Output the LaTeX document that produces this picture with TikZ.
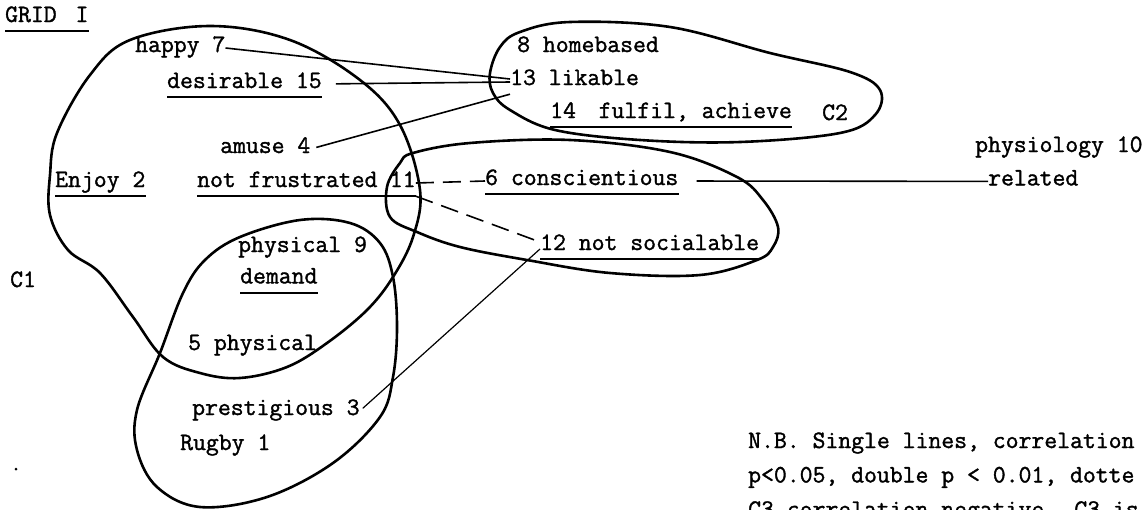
\documentclass[tikz,border=0pt]{standalone}
\usepackage{fontspec}
\newfontfamily\typefont[FakeBold=1.4]{Latin Modern Mono}
\usetikzlibrary{positioning}

\begin{document}
\begin{tikzpicture}[x=1pt, y=-1pt,
lab/.style={font=\fontsize{25}{30}\selectfont\typefont, inner sep=0pt, text height=17pt, text depth=9pt, anchor=base west},
cluster/.style={line width=2.6pt, line join=round},
link/.style={line width=1.6pt},
neglink/.style={line width=1.6pt, dash pattern=on 18pt off 9pt},
thinlink/.style={line width=1.2pt},
uline/.style={line width=2pt},
]
\useasboundingbox (0,0) rectangle (1145,509);

%Clusters
\draw[cluster] plot[smooth cycle, tension=0.6] coordinates {(57,133) (90,75) (130,40) (210,26) (290,40) (360,80) (400,125) (420,190) (413,237) (393,277) (367,310) (327,343) (287,367) (240,378) (200,373) (163,357) (133,317) (100,273) (68,250) (50,215) (50,175)};
\draw[cluster] plot[smooth cycle, tension=0.6] coordinates {(240,237) (300,220) (350,223) (380,243) (393,277) (397,327) (393,377) (380,417) (333,463) (267,497) (200,507) (157,487) (137,450) (137,410) (160,353) (183,293) (205,260)};
\draw[cluster] plot[smooth cycle, tension=0.6] coordinates {(490,73) (500,47) (520,32) (570,22) (670,27) (770,53) (850,72) (880,90) (875,115) (840,133) (740,142) (640,140) (555,130) (510,110) (493,93)};
\draw[cluster] plot[smooth cycle, tension=0.6] coordinates {(413,153) (470,143) (570,140) (670,152) (737,177) (763,200) (778,227) (773,247) (757,260) (700,275) (610,273) (527,260) (460,247) (417,232) (390,217) (387,187) (400,163)};

%Nodes
\node[lab] (grid) at (5,22) {GRID \kern6pt I};
\node[lab] (happy) at (135,52) {happy 7};
\node[lab] (desirable) at (167,88) {desirable 15};
\node[lab] (amuse) at (220,153) {amuse 4};
\node[lab] (enjoy) at (55,187) {Enjoy 2};
\node[lab] (frust) at (197,187) {not frustrated};
\node[lab, right=12pt of frust.base east, anchor=base west] (eleven) {11};
\node[lab] (physnine) at (238,252) {physical 9};
\node[lab, below=5pt of physnine.south west, anchor=north west, xshift=2pt] (demand) {demand};
\node[lab] (cone) at (10,287) {C1};
\node[lab] (physfive) at (188,350) {5 physical};
\node[lab] (prest) at (192,415) {prestigious 3};
\node[lab] (rugby) at (180,450) {Rugby 1};
\node[lab] (homebased) at (517,52) {8 homebased};
\node[lab] (likable) at (510,85) {13 likable};
\node[lab] (fulfil) at (550,118) {14 \kern-3pt\ fulfil, achieve};
\node[lab] (ctwo) at (822,120) {C2};
\node[lab] (consc) at (485,185) {6 conscientious};
\node[lab] (notsoc) at (540,250) {12 not socialable};
\node[lab] (physio) at (975,152) {physiology 10};
\node[lab, below=7pt of physio.south west, anchor=north west, xshift=13pt] (related) {related};
\node[lab] (noteA) at (748,448) {N.B. Single lines, correlation};
\node[lab, below=8pt of noteA.south west, anchor=north west] (noteB) {p<0.05, double p < 0.01, dotte};
\node[lab, below=8pt of noteB.south west, anchor=north west] (noteC) {C3 correlation negative.  C3 is};
\fill (16,469) circle (1.5pt);

%Underlines
\draw[uline] (grid.south west) -- (grid.south east);
\draw[uline] (desirable.south west) -- (desirable.south east);
\draw[uline] (enjoy.south west) -- (enjoy.south east);
\draw[uline] (frust.south west) -- (eleven.south east);
\draw[uline] (demand.south west) -- (demand.south east);
\draw[uline] (fulfil.south west) -- (fulfil.south east);
\draw[uline] (consc.south west) -- (consc.south east);
\draw[uline] (notsoc.south west) -- (notsoc.south east);

%Lines
\draw[link] (happy.east) -- ([yshift=2pt]likable.west);
\draw[link, shorten <=14pt] (desirable.east) -- ([yshift=-1pt]likable.west);
\draw[link, shorten <=6pt] (amuse.east) -- (likable.south west);
\draw[neglink] (eleven.east) -- (consc.west);
\draw[neglink] (eleven.south east) -- ([yshift=4pt]notsoc.west);
\draw[thinlink, shorten <=4pt] (prest.east) -- ([yshift=-3pt]notsoc.west);
\draw[link, shorten <=18pt] (consc.east) -- (related.west);
\end{tikzpicture}
\end{document}
